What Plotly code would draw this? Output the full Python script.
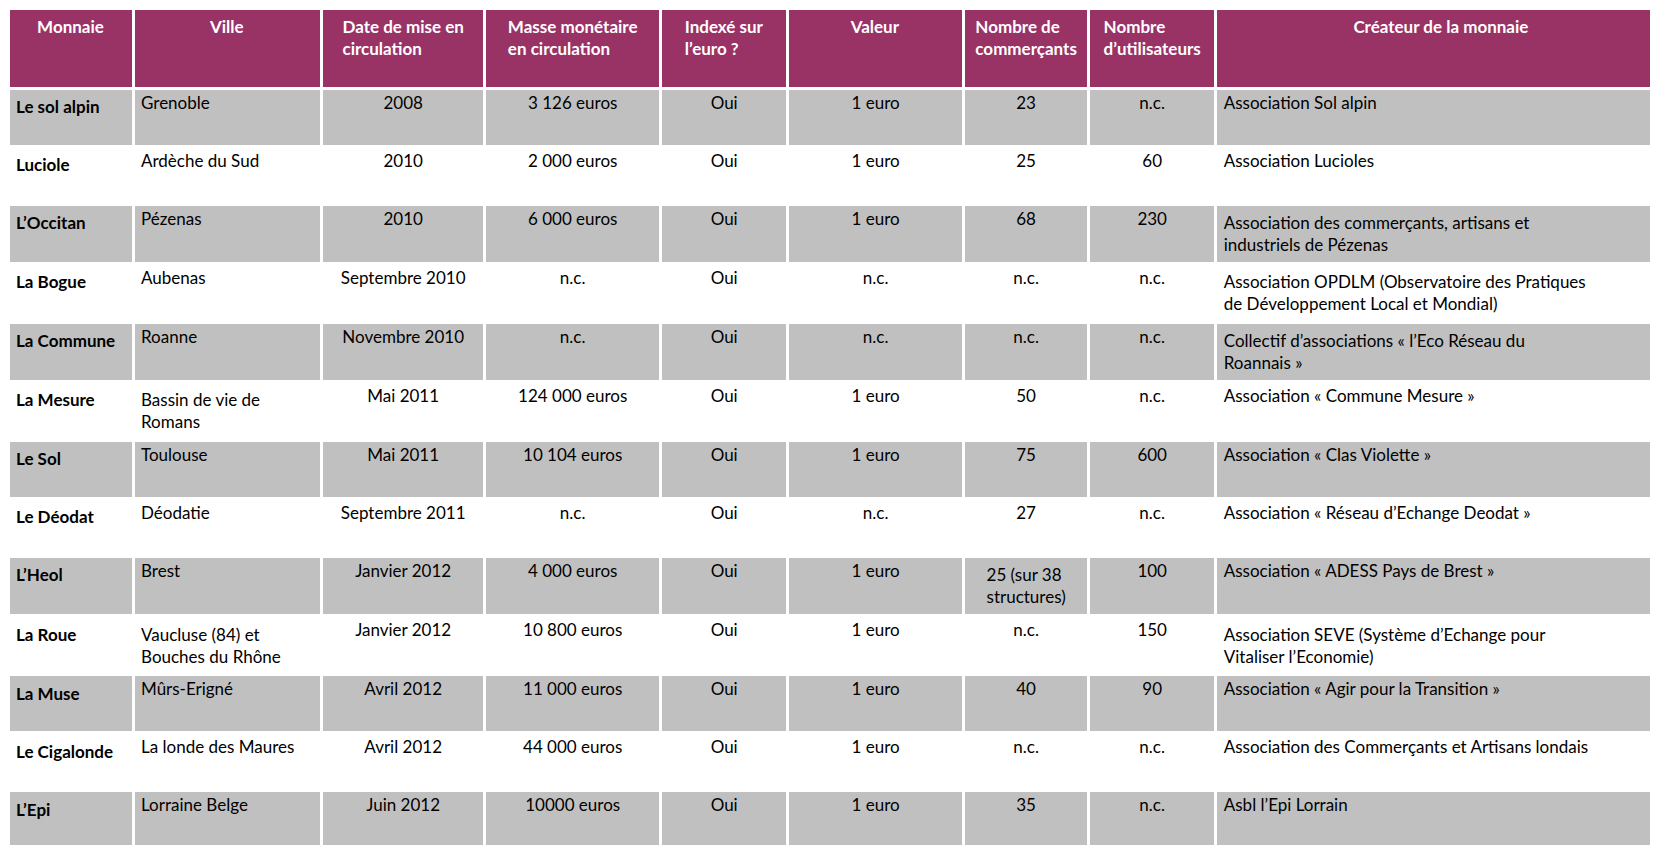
import plotly.graph_objects as go

headers = ["Monnaie", "Ville", "Date de mise en<br>circulation", "Masse monétaire<br>en circulation",
           "Indexé sur<br>l’euro ?", "Valeur", "Nombre de<br>commerçants", "Nombre<br>d’utilisateurs",
           "Créateur de la monnaie"]
monnaie = ["Le sol alpin", "Luciole", "L’Occitan", "La Bogue", "La Commune", "La Mesure", "Le Sol",
           "Le Déodat", "L’Heol", "La Roue", "La Muse", "Le Cigalonde", "L’Epi"]
ville = ["Grenoble", "Ardèche du Sud", "Pézenas", "Aubenas", "Roanne", "Bassin de vie de<br>Romans",
         "Toulouse", "Déodatie", "Brest", "Vaucluse (84) et<br>Bouches du Rhône", "Mûrs-Erigné",
         "La londe des Maures", "Lorraine Belge"]
date = ["2008", "2010", "2010", "Septembre 2010", "Novembre 2010", "Mai 2011", "Mai 2011",
        "Septembre 2011", "Janvier 2012", "Janvier 2012", "Avril 2012", "Avril 2012", "Juin 2012"]
masse = ["3 126 euros", "2 000 euros", "6 000 euros", "n.c.", "n.c.", "124 000 euros", "10 104 euros",
         "n.c.", "4 000 euros", "10 800 euros", "11 000 euros", "44 000 euros", "10000 euros"]
indexe = ["Oui"] * 13
valeur = ["1 euro", "1 euro", "1 euro", "n.c.", "n.c.", "1 euro", "1 euro", "n.c.", "1 euro",
          "1 euro", "1 euro", "1 euro", "1 euro"]
commercants = ["23", "25", "68", "n.c.", "n.c.", "50", "75", "27", "25 (sur 38<br>structures)",
               "n.c.", "40", "n.c.", "35"]
utilisateurs = ["n.c.", "60", "230", "n.c.", "n.c.", "n.c.", "600", "n.c.", "100", "150", "90",
                "n.c.", "n.c."]
createur = ["Association Sol alpin", "Association Lucioles",
            "Association des commerçants, artisans et<br>industriels de Pézenas",
            "Association OPDLM (Observatoire des Pratiques<br>de Développement Local et Mondial)",
            "Collectif d’associations « l’Eco Réseau du<br>Roannais »",
            "Association « Commune Mesure »", "Association « Clas Violette »",
            "Association « Réseau d’Echange Deodat »", "Association « ADESS Pays de Brest »",
            "Association SEVE (Système d’Echange pour<br>Vitaliser l’Economie)",
            "Association « Agir pour la Transition »",
            "Association des Commerçants et Artisans londais", "Asbl l’Epi Lorrain"]

col_widths = [118, 178, 154, 166, 120, 166, 118, 120, 425]
n = len(monnaie)
row_fill = ["#c0c0c0" if i % 2 == 0 else "#ffffff" for i in range(n)]

fig = go.Figure(go.Table(
    columnwidth=col_widths,
    header=dict(values=[f"<b>{h}</b>" for h in headers], fill_color="#993366",
                font=dict(color="white", size=17, family="Lato"), align="center",
                height=80, line=dict(color="white", width=3)),
    cells=dict(values=[[f"<b>{m}</b>" for m in monnaie], ville, date, masse, indexe, valeur,
                       commercants, utilisateurs, createur],
               fill_color=[row_fill] * 9,
               font=dict(color="black", size=17, family="Lato"),
               align=["left", "left", "center", "center", "center", "center", "center", "center", "left"],
               height=58, line=dict(color="white", width=3)),
))
fig.update_layout(width=1658, height=845, margin=dict(l=0, r=0, t=0, b=0), paper_bgcolor="white")
fig.write_html("out.html")
